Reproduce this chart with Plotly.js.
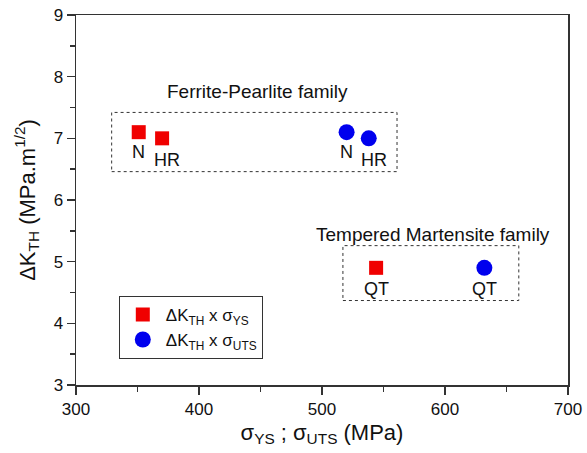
<!DOCTYPE html>
<html><head><meta charset="utf-8">
<script src="https://cdn.plot.ly/plotly-3.0.1.min.js"></script>
<style>body{margin:0;background:#fff}#c{width:587px;height:453px}</style>
</head><body><div id="c"></div>
<script>
// data
const labels = ["N", "HR", "QT"];
const sigmaYS = [351, 370, 544];
const sigmaUTS = [520, 538, 632];
const dKth = [7.1, 7.0, 4.9];
const groupNames = ["Ferrite-Pearlite family", "Tempered Martensite family"];
const groupX0 = [329, 517];
const groupX1 = [561, 660];
const groupY0 = [6.46, 4.37];
const groupY1 = [7.42, 5.26];

const font = "Liberation Sans, Arial, sans-serif";
const traces = [
  {x: sigmaYS, y: dKth, type: "scatter", mode: "markers", name: "ΔK<sub>TH</sub> x σ<sub>YS</sub>",
   marker: {symbol: "square", size: 14, color: "#f00000"}},
  {x: sigmaUTS, y: dKth, type: "scatter", mode: "markers", name: "ΔK<sub>TH</sub> x σ<sub>UTS</sub>",
   marker: {symbol: "circle", size: 16, color: "#0000ee"}}
];

const annotations = [];
const shifts = [[0, -20], [5, -22], [0, -21]];
[sigmaYS, sigmaUTS].forEach(xs => {
  xs.forEach((x, i) => annotations.push({x: x, y: dKth[i], text: labels[i], showarrow: false,
    xshift: shifts[i][0], yshift: shifts[i][1], font: {family: font, size: 18, color: "#111"}}));
});
const titleShift = [[3, 21], [2, 11]];
groupNames.forEach((g, i) => annotations.push({x: (groupX0[i] + groupX1[i]) / 2, y: groupY1[i],
  text: g, showarrow: false, xshift: titleShift[i][0], yshift: titleShift[i][1],
  font: {family: font, size: 19, color: "#111"}}));

const shapes = groupNames.map((g, i) => ({type: "rect", xref: "x", yref: "y",
  x0: groupX0[i], x1: groupX1[i], y0: groupY0[i], y1: groupY1[i],
  line: {color: "#333", width: 1, dash: "dot"}}));

const axisCommon = {showgrid: false, zeroline: false, showline: true, mirror: true,
  linecolor: "#333", linewidth: 1.5, ticks: "outside", ticklen: 8, tickwidth: 1.5, tickcolor: "#333",
  tickfont: {family: font, size: 17, color: "#111"}};

const layout = {
  width: 587, height: 453,
  margin: {l: 76, r: 19, t: 15, b: 68},
  paper_bgcolor: "#fff", plot_bgcolor: "#fff",
  showlegend: true,
  legend: {x: 0.087, y: 0.241, xanchor: "left", yanchor: "top", bordercolor: "#333", borderwidth: 1,
    bgcolor: "#fff", font: {family: font, size: 17, color: "#111"}, tracegroupgap: 0, itemwidth: 36},
  xaxis: Object.assign({}, axisCommon, {range: [300, 700], dtick: 100, tick0: 300,
    minor: {ticks: "outside", dtick: 50, ticklen: 5, tickcolor: "#333"},
    title: {text: "σ<sub>YS</sub> ; σ<sub>UTS</sub> (MPa)", font: {family: font, size: 22, color: "#111"}, standoff: 6}}),
  yaxis: Object.assign({}, axisCommon, {range: [3, 9], dtick: 1,
    minor: {ticks: "outside", dtick: 0.5, ticklen: 5, tickcolor: "#333"},
    title: {text: "ΔK<sub>TH</sub> (MPa.m<sup>1/2</sup>)", font: {family: font, size: 22, color: "#111"}, standoff: 12}}),
  annotations: annotations,
  shapes: shapes
};
Plotly.newPlot("c", traces, layout, {displayModeBar: false, staticPlot: true});
</script></body></html>
